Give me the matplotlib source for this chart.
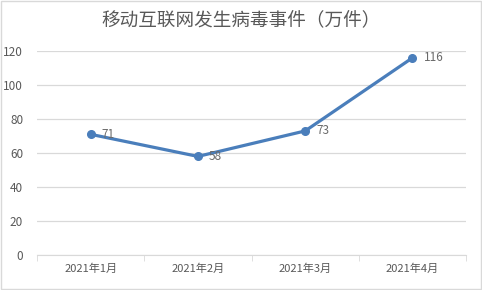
import matplotlib.pyplot as plt
from matplotlib.patches import Rectangle

plt.rcParams['font.family'] = ['Noto Sans CJK SC', 'DejaVu Sans']

# Datos
meses = ['2021年1月', '2021年2月', '2021年3月', '2021年4月']
valores = [71, 58, 73, 116]
titulo = '移动互联网发生病毒事件（万件）'
yticks = [0, 20, 40, 60, 80, 100, 120]

gris = '#595959'
azul = '#4a7ebb'

fig = plt.figure(figsize=(4.82, 2.90), dpi=100)
ax = fig.add_axes([0.0768, 0.1207, 0.967 - 0.0768, 0.824 - 0.1207])

x = list(range(len(meses)))
ax.plot(x, valores, color=azul, lw=2.3, marker='o', ms=5.5, zorder=3)
for xi, v in zip(x, valores):
    ax.annotate(str(v), (xi, v), xytext=(8, 0), textcoords='offset points',
                ha='left', va='center', fontsize=8.5, color='#6a6a6a')

ax.set_xlim(-0.5, len(meses) - 0.5)
ax.set_ylim(0, 120)
ax.set_yticks(yticks)
ax.set_xticks(x)
ax.set_xticklabels(meses)
ax.set_xticks([i - 0.5 for i in range(len(meses) + 1)], minor=True)
ax.tick_params(axis='x', which='major', length=0, pad=6, labelsize=8, labelcolor=gris)
ax.tick_params(axis='x', which='minor', length=4, color='#d9d9d9')
ax.tick_params(axis='y', length=0, pad=10, labelsize=8.5, labelcolor=gris)
ax.grid(axis='y', color='#d9d9d9', lw=0.9)
ax.set_axisbelow(True)
for s in ['left', 'right', 'top']:
    ax.spines[s].set_visible(False)
ax.spines['bottom'].set_color('#d9d9d9')

fig.text(0.5, 0.93, titulo, ha='center', va='center', fontsize=13.4, color=gris)
fig.patches.append(Rectangle((0.002, 0.003), 0.995, 0.994, transform=fig.transFigure,
                             fill=False, edgecolor='#d9d9d9', lw=1))

fig.savefig('out.png', dpi=100)
